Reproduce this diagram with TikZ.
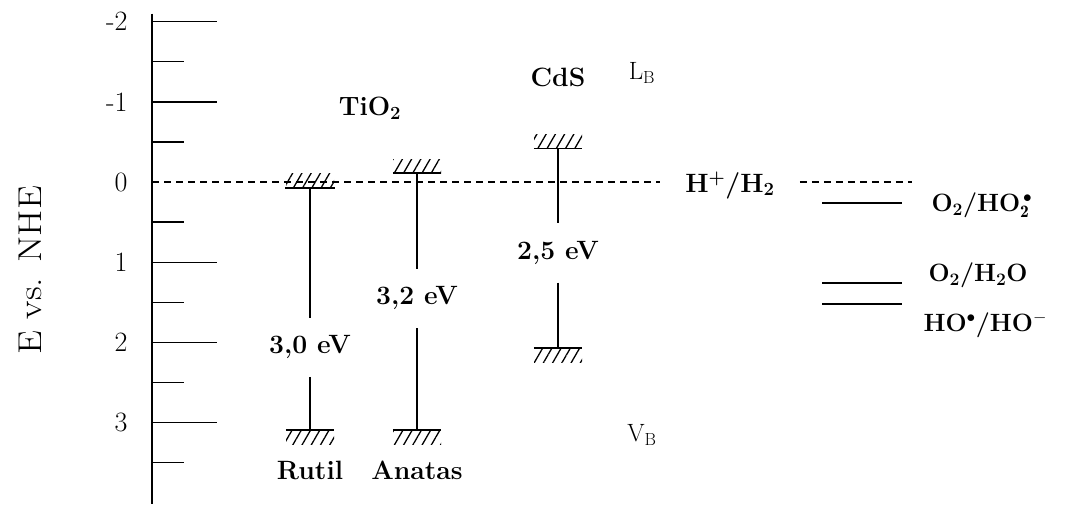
\documentclass[tikz,border=0pt]{standalone}
\usepackage{fontspec}
\usepackage{tikz}
\usetikzlibrary{patterns.meta}

\newcommand{\labelfont}{\fontsize{26.5}{30}\selectfont\bfseries}
\newcommand{\redoxfont}{\fontsize{25}{30}\selectfont\bfseries}
\newcommand{\ticklabelfont}{\fontsize{28}{32}\selectfont}
\newcommand{\axislabelfont}{\fontsize{33}{38}\selectfont}
\newcommand{\bandfont}{\fontsize{25}{30}\selectfont}

\begin{document}
\begin{tikzpicture}[x=1pt, y=-80.2pt,
    axisline/.style={line width=1.7pt},
    tickline/.style={line width=1.4pt},
    hatchband/.style={minimum width=48pt, minimum height=14pt, inner sep=0pt,
      pattern={Lines[angle=60, distance=8pt, line width=1.3pt]}},
    levelbar/.style={line width=1.7pt},
    gapline/.style={line width=1.4pt},
    gaplabel/.style={font=\labelfont, minimum height=59pt, inner sep=0pt},
    boldlabel/.style={font=\labelfont},
    redoxlabel/.style={font=\redoxfont, anchor=west},
    redoxline/.style={line width=1.5pt},
    nhe/.style={dash pattern=on 7pt off 5pt, line width=1.4pt}]
  \useasboundingbox (0,-2.27) rectangle (1066,4.015);

  % energy scale vs. NHE
  \draw[axisline] (152,-2.1) -- (152,4.015);
  \foreach \e [count=\i] in {-2,...,3}
    \node[anchor=east, font=\ticklabelfont] (tick\i) at (131,\e) {\e};
  \foreach \e in {-2,-1,1,2,3}
    \draw[tickline] (152,\e) -- (217,\e);
  \foreach \e in {-1.5,-0.5,...,3.5}
    \draw[tickline] (152,\e) -- (184,\e);
  \node[font=\axislabelfont, rotate=90, xscale=1.15] (axlabel) at (30,1.10) {E vs. NHE};

  % H+/H2 level
  \coordinate (zero) at (152,0);
  \coordinate (nheend) at (912,0);
  \node[boldlabel, inner xsep=25pt] (hplus) at (730,0.04) {H\textsuperscript{+}/H\textsubscript{2}};
  \draw[nhe] (zero) -- (hplus.west |- zero);
  \draw[nhe] (hplus.east |- zero) -- (nheend);

  % Rutil
  \node[hatchband, anchor=south] (rutCB) at (310,0.075) {};
  \node[hatchband, anchor=north] (rutVB) at (310,3.09) {};
  \draw[levelbar] (rutCB.south west) -- (rutCB.south east);
  \draw[levelbar] (rutVB.north west) -- (rutVB.north east);
  \node[gaplabel] (rutGap) at (310,2.06) {3,0 eV};
  \draw[gapline] (rutCB.south) -- (rutGap.north);
  \draw[gapline] (rutGap.south) -- (rutVB.north);
  \node[boldlabel] (rutName) at (310,3.59) {Rutil};

  % Anatas
  \node[hatchband, anchor=south] (anaCB) at (417,-0.11) {};
  \node[hatchband, anchor=north] (anaVB) at (417,3.09) {};
  \draw[levelbar] (anaCB.south west) -- (anaCB.south east);
  \draw[levelbar] (anaVB.north west) -- (anaVB.north east);
  \node[gaplabel] (anaGap) at (417,1.45) {3,2 eV};
  \draw[gapline] (anaCB.south) -- (anaGap.north);
  \draw[gapline] (anaGap.south) -- (anaVB.north);
  \node[boldlabel] (anaName) at (417,3.59) {Anatas};
  \node[boldlabel] (tio2) at (370,-0.92) {TiO\textsubscript{2}};

  % CdS
  \node[hatchband, anchor=south] (cdsCB) at (558,-0.42) {};
  \node[hatchband, anchor=north] (cdsVB) at (558,2.07) {};
  \draw[levelbar] (cdsCB.south west) -- (cdsCB.south east);
  \draw[levelbar] (cdsVB.north west) -- (cdsVB.north east);
  \node[gaplabel] (cdsGap) at (558,0.885) {2,5 eV};
  \draw[gapline] (cdsCB.south) -- (cdsGap.north);
  \draw[gapline] (cdsGap.south) -- (cdsVB.north);
  \node[boldlabel] (cdsName) at (558,-1.31) {CdS};

  % band labels
  \node[font=\bandfont] (lb) at (642,-1.36) {L\textsubscript{B}};
  \node[font=\bandfont] (vb) at (642,3.15) {V\textsubscript{B}};

  % redox couples
  \draw[redoxline] (822,0.26) -- (902,0.26);
  \draw[redoxline] (822,1.26) -- (902,1.26);
  \draw[redoxline] (822,1.52) -- (902,1.52);
  \node[redoxlabel] (ho2) at (928,0.29) {O\textsubscript{2}/HO$_{\mathbf{2}}^{\,\bullet}$};
  \node[redoxlabel] (h2o) at (925,1.16) {O\textsubscript{2}/H\textsubscript{2}O};
  \node[redoxlabel] (hoh) at (920,1.78) {HO\textsuperscript{$\bullet$}/HO\textsuperscript{$-$}};
\end{tikzpicture}
\end{document}
